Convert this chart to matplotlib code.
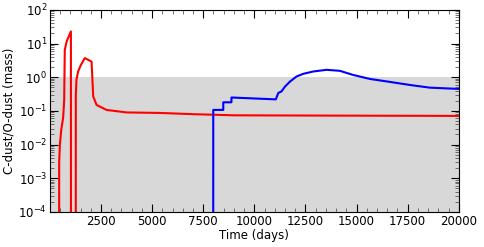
import numpy as np
import matplotlib
matplotlib.use("Agg")
import matplotlib.pyplot as plt
from matplotlib.ticker import MultipleLocator, LogLocator

# C-dust / O-dust mass ratio
red_t = [455, 456, 490, 560, 650, 700, 730, 820, 1030, 1031,
         None,
         1269, 1270, 1300, 1385, 1515, 1710, 1955, 2040, 2120, 2285, 2770,
         3750, 5380, 7000, 9000, 12000, 16000, 20000]
red_v = [1e-4, 3e-3, 1e-2, 0.028, 0.063, 0.2, 6.5, 11.5, 23, 1e-4,
         None,
         1e-4, 0.3, 0.83, 1.5, 2.3, 3.7, 3.1, 2.9, 0.27, 0.15, 0.107,
         0.09, 0.087, 0.08, 0.074, 0.073, 0.072, 0.071]

blue_t = [7990, 7991, 8480, 8481, 8880, 8881, 11050, 11170, 11330, 11490,
          11740, 12060, 12390, 12880, 13530, 14180, 14830, 15650, 16540,
          17600, 18580, 20000]
blue_v = [1e-4, 0.107, 0.107, 0.18, 0.18, 0.25, 0.22, 0.34, 0.38, 0.52,
          0.74, 1.05, 1.26, 1.48, 1.66, 1.55, 1.17, 0.89, 0.74,
          0.59, 0.49, 0.45]

XMIN, XMAX = 0, 20000
YMIN, YMAX = 1e-4, 1e2
FS = 8.5


def nan_split(t, v):
    t = np.array([np.nan if a is None else a for a in t], dtype=float)
    v = np.array([np.nan if a is None else a for a in v], dtype=float)
    return t, v


fig = plt.figure(figsize=(4.84, 2.47), dpi=100)
ax = fig.add_axes([0.103, 0.142, 0.845, 0.818])

ax.axhspan(YMIN, 1.0, color="#d8d8d8", lw=0, zorder=0)

rt, rv = nan_split(red_t, red_v)
ax.plot(rt, rv, color="red", lw=1.5)
ax.plot(blue_t, blue_v, color="blue", lw=1.5)

ax.set_yscale("log")
ax.set_xlim(XMIN, XMAX)
ax.set_ylim(YMIN, YMAX)
ax.set_xticks(np.arange(2500, 20001, 2500))
ax.xaxis.set_minor_locator(MultipleLocator(500))
ax.yaxis.set_major_locator(LogLocator(base=10, numticks=10))
ax.yaxis.set_minor_locator(LogLocator(base=10, subs=np.arange(2, 10), numticks=20))
ax.tick_params(which="both", direction="in", top=True, right=True, labelsize=FS)
ax.tick_params(which="major", length=6, pad=2)
ax.tick_params(which="minor", length=3, width=0.6, color="0.35")

ax.set_xlabel("Time (days)", fontsize=FS, labelpad=1)
ax.set_ylabel("C-dust/O-dust (mass)", fontsize=FS, labelpad=2)

fig.savefig("out.png", dpi=100)
